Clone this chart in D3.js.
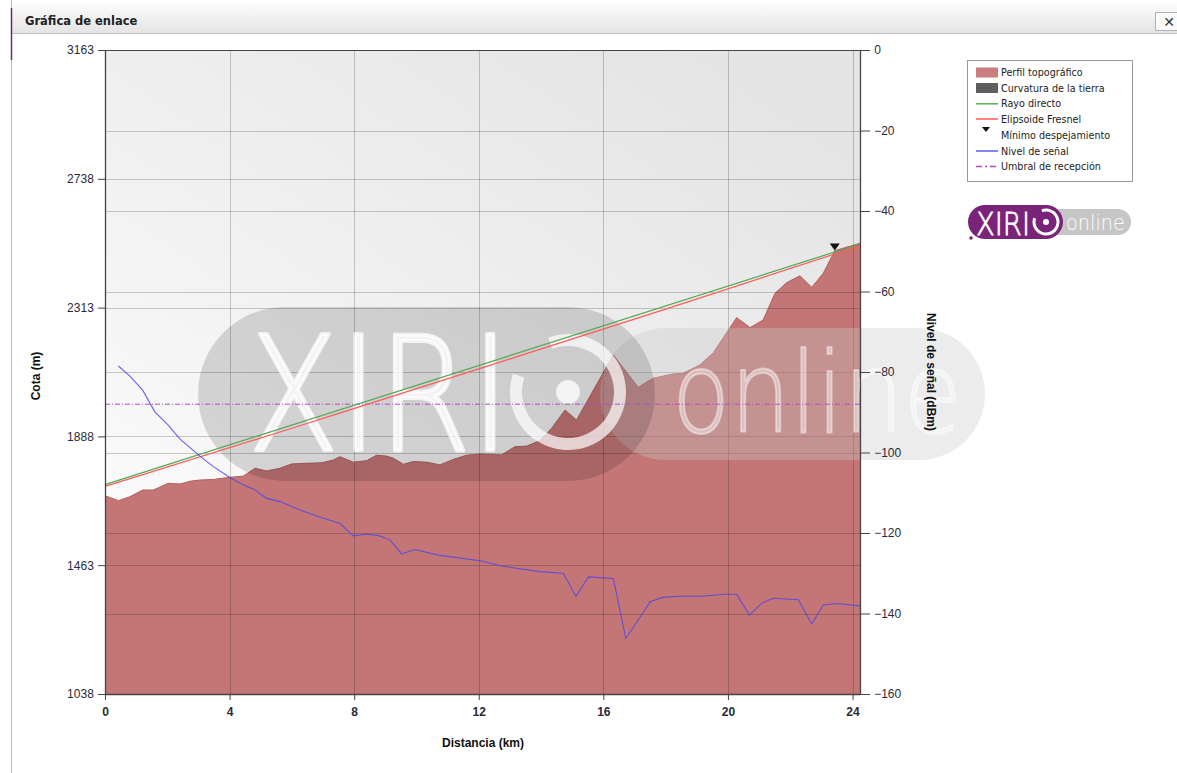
<!DOCTYPE html>
<html><head><meta charset="utf-8">
<script src="https://cdn.jsdelivr.net/npm/d3@7"></script>
<style>
html,body{margin:0;padding:0;background:#fff;}
svg{display:block;}
</style></head>
<body>
<script>
// ---- Data ----
const terrainKm = [0, 0.43, 0.8, 1.21, 1.55, 2.03, 2.41, 2.78, 3.05, 3.48, 4.01, 4.44, 4.82, 5.19, 5.62, 5.99, 6.37, 6.96, 7.33, 7.54, 7.97, 8.4, 8.72, 9.04, 9.26, 9.58, 9.9, 10.33, 10.75, 11.18, 11.61, 12.04, 12.73, 13.16, 13.54, 13.96, 14.34, 14.77, 15.14, 16.32, 17.12, 17.6, 18.24, 18.56, 19.1, 19.53, 20.28, 20.71, 21.13, 21.51, 21.88, 22.31, 22.69, 23.06, 23.43, 24.24];
const terrainElev = [1692, 1676, 1689, 1711, 1711, 1733, 1731, 1741, 1744, 1746, 1753, 1757, 1783, 1774, 1783, 1797, 1799, 1801, 1810, 1821, 1803, 1808, 1826, 1823, 1816, 1796, 1805, 1803, 1794, 1812, 1826, 1830, 1827, 1854, 1856, 1874, 1915, 1975, 1942, 2157, 2050, 2080, 2094, 2096, 2124, 2164, 2280, 2247, 2272, 2360, 2395, 2418, 2380, 2426, 2501, 2525];

const rayKm = [0, 24.24];
const rayElev = [1729, 2523];

const fresnelKm = [0, 6, 12, 18, 24.24];
const fresnelElev = [1723, 1915, 2111, 2308, 2517];

const minClearKm = [23.43];
const minClearElev = [2501];

const signalKm = [0.43, 0.8, 1.21, 1.6, 2.03, 2.41, 3.05, 3.48, 4.01, 4.44, 4.78, 5.19, 5.62, 6.26, 6.96, 7.54, 7.97, 8.35, 8.77, 9.15, 9.52, 9.95, 10.7, 11.18, 12.04, 12.73, 13.96, 14.71, 15.12, 15.52, 16.32, 16.72, 17.12, 17.5, 17.9, 18.46, 19.16, 19.9, 20.28, 20.69, 21.11, 21.46, 22.26, 22.69, 23.06, 23.49, 24.24];
const signalDbm = [-78.5, -81, -84.5, -89.9, -93.2, -96.7, -100.9, -103.5, -106.2, -108.1, -109.1, -111.4, -112.2, -114.3, -116.2, -117.6, -120.7, -120.3, -120.6, -121.7, -125.2, -124.1, -125.5, -126, -126.9, -128.2, -129.6, -130, -135.7, -130.9, -131.3, -146.2, -141.6, -137.1, -136, -135.7, -135.7, -135.2, -135.2, -140.4, -137.3, -136.2, -136.6, -142.6, -137.9, -137.5, -138.1];

const thresholdDbm = -88;

const xTicks = [0, 4, 8, 12, 16, 20, 24];
const elevTicks = [1038, 1463, 1888, 2313, 2738, 3163];
const dbmTicks = [0, -20, -40, -60, -80, -100, -120, -140, -160];

const legendItems = ["Perfil topográfico", "Curvatura de la tierra", "Rayo directo", "Elipsoide Fresnel", "Mínimo despejamiento", "Nivel de señal", "Umbral de recepción"];

// ---- Drawing ----
const W = 1177, H = 773;
const svg = d3.select("body").append("svg").attr("width", W).attr("height", H);
const defs = svg.append("defs");

const m = {left: 105, right: 860, top: 50, bottom: 694};
const x = d3.scaleLinear().domain([0, 24.24]).range([m.left, m.right]);
const yL = d3.scaleLinear().domain([1038, 3163]).range([m.bottom, m.top]);
const yR = d3.scaleLinear().domain([-160, 0]).range([m.bottom, m.top]);

// Title bar
const tg = defs.append("linearGradient").attr("id", "tbar").attr("x1", 0).attr("y1", 0).attr("x2", 0).attr("y2", 1);
tg.append("stop").attr("offset", "0%").attr("stop-color", "#ffffff");
tg.append("stop").attr("offset", "100%").attr("stop-color", "#e4e4e4");
svg.append("rect").attr("x", 12).attr("y", 0).attr("width", W - 12).attr("height", 33).attr("fill", "url(#tbar)");
svg.append("line").attr("x1", 12).attr("x2", W).attr("y1", 33.5).attr("y2", 33.5).attr("stroke", "#c4c4c4");
svg.append("text").attr("x", 25).attr("y", 25).text("Gráfica de enlace")
  .attr("font-family", "DejaVu Sans, Verdana, sans-serif").attr("font-weight", "bold").attr("font-size", 11.5).attr("fill", "#222");
svg.append("rect").attr("x", 1155.5).attr("y", 12.5).attr("width", 24).attr("height", 18).attr("fill", "#fafafa").attr("stroke", "#b0b0b0");
svg.append("text").attr("x", 1169).attr("y", 26.5).attr("text-anchor", "middle").text("✕")
  .attr("font-family", "DejaVu Sans, sans-serif").attr("font-weight", "bold").attr("font-size", 14).attr("fill", "#333");
// left frame line
svg.append("line").attr("x1", 11.5).attr("x2", 11.5).attr("y1", 0).attr("y2", H).attr("stroke", "#b8b8b8");
svg.append("line").attr("x1", 11.5).attr("x2", 11.5).attr("y1", 8).attr("y2", 60).attr("stroke", "#6a2a6e").attr("stroke-width", 1.5);

// Plot background
const bg = defs.append("linearGradient").attr("id", "pbg").attr("x1", 0).attr("y1", 1).attr("x2", 0.8).attr("y2", 0);
bg.append("stop").attr("offset", "0%").attr("stop-color", "#ffffff");
bg.append("stop").attr("offset", "100%").attr("stop-color", "#e4e4e4");
svg.append("rect").attr("x", m.left).attr("y", m.top).attr("width", m.right - m.left).attr("height", m.bottom - m.top).attr("fill", "url(#pbg)");

// Terrain
const terrain = terrainKm.map((k, i) => [k, terrainElev[i]]);
svg.append("path").datum(terrain)
  .attr("d", d3.area().x(d => x(d[0])).y0(yL(1038)).y1(d => yL(d[1])))
  .attr("fill", "#c47676");
svg.append("path").datum(terrain)
  .attr("d", d3.line().x(d => x(d[0])).y(d => yL(d[1])))
  .attr("fill", "none").attr("stroke", "#b35f5f").attr("stroke-width", 1);

// Grid
const grid = svg.append("g").attr("stroke", "#000").attr("stroke-opacity", 0.2).attr("stroke-width", 1);
xTicks.filter(t => t > 0).forEach(t => grid.append("line").attr("x1", Math.round(x(t)) + 0.5).attr("x2", Math.round(x(t)) + 0.5).attr("y1", m.top).attr("y2", m.bottom));
elevTicks.filter(t => t > 1038 && t < 3163).forEach(t => grid.append("line").attr("x1", m.left).attr("x2", m.right).attr("y1", Math.round(yL(t)) + 0.5).attr("y2", Math.round(yL(t)) + 0.5));
dbmTicks.filter(t => t > -160 && t < 0).forEach(t => grid.append("line").attr("x1", m.left).attr("x2", m.right).attr("y1", Math.round(yR(t)) + 0.5).attr("y2", Math.round(yR(t)) + 0.5));

// Watermark (big logo)
const wm = svg.append("g");
wm.append("rect").attr("x", 600).attr("y", 328).attr("width", 385).attr("height", 132).attr("rx", 66).attr("fill", "#c8c8c8").attr("fill-opacity", 0.35);
wm.append("rect").attr("x", 198).attr("y", 307).attr("width", 457).attr("height", 174).attr("rx", 87).attr("fill", "#000").attr("fill-opacity", 0.14);
wm.append("text").attr("x", 248).attr("y", 450).text("XIRI")
  .attr("font-family", "DejaVu Sans, sans-serif").attr("font-weight", 200).attr("font-size", 158)
  .attr("textLength", 262).attr("lengthAdjust", "spacingAndGlyphs")
  .attr("fill", "#fff").attr("fill-opacity", 0.75)
  .attr("stroke", "#fff").attr("stroke-opacity", 0.75).attr("stroke-width", 4).attr("stroke-linejoin", "round");
const ringArc = d3.arc().innerRadius(46).outerRadius(58).startAngle(-0.35).endAngle(2 * Math.PI - 1.25);
wm.append("path").attr("d", ringArc()).attr("transform", "translate(568,392)").attr("fill", "#fff").attr("fill-opacity", 0.7);
wm.append("circle").attr("cx", 568).attr("cy", 392).attr("r", 12).attr("fill", "#fff").attr("fill-opacity", 0.75);
wm.append("text").attr("x", 672).attr("y", 432).text("online")
  .attr("font-family", "DejaVu Sans, sans-serif").attr("font-weight", 200).attr("font-size", 112)
  .attr("textLength", 290).attr("lengthAdjust", "spacingAndGlyphs")
  .attr("fill", "#fff").attr("fill-opacity", 0.42)
  .attr("stroke", "#fff").attr("stroke-opacity", 0.42).attr("stroke-width", 2);
wm.append("circle").attr("cx", 213).attr("cy", 470).attr("r", 8).attr("fill", "none").attr("stroke", "#fff").attr("stroke-opacity", 0.6);
wm.append("text").attr("x", 213).attr("y", 474).attr("text-anchor", "middle").text("R")
  .attr("font-family", "DejaVu Sans, sans-serif").attr("font-size", 10).attr("fill", "#fff").attr("fill-opacity", 0.6);

// Threshold
svg.append("line").attr("x1", m.left).attr("x2", m.right).attr("y1", yR(thresholdDbm)).attr("y2", yR(thresholdDbm))
  .attr("stroke", "#b04cc0").attr("stroke-width", 1).attr("stroke-dasharray", "5,2,1,2");

// Ray and Fresnel
svg.append("path").datum(rayKm.map((k, i) => [k, rayElev[i]]))
  .attr("d", d3.line().x(d => x(d[0])).y(d => yL(d[1])))
  .attr("fill", "none").attr("stroke", "#4fa84f").attr("stroke-width", 1.2);
svg.append("path").datum(fresnelKm.map((k, i) => [k, fresnelElev[i]]))
  .attr("d", d3.line().curve(d3.curveNatural).x(d => x(d[0])).y(d => yL(d[1])))
  .attr("fill", "none").attr("stroke", "#ff5a5a").attr("stroke-width", 1.2);

// Signal level
svg.append("path").datum(signalKm.map((k, i) => [k, signalDbm[i]]))
  .attr("d", d3.line().x(d => x(d[0])).y(d => yR(d[1])))
  .attr("fill", "none").attr("stroke", "#5046e6").attr("stroke-width", 1.1).attr("stroke-opacity", 0.85);

// Minimum clearance marker
minClearKm.forEach((k, i) => {
  const px = x(k), py = yL(minClearElev[i]);
  svg.append("path").attr("d", `M${px - 5},${py - 7}L${px + 5},${py - 7}L${px},${py}Z`).attr("fill", "#111");
});

// Plot frame
svg.append("line").attr("x1", m.left).attr("x2", m.right).attr("y1", m.top + 0.5).attr("y2", m.top + 0.5).attr("stroke", "#444");

// Axes
const fontAxis = "Liberation Sans, Arial, sans-serif";
const gx = svg.append("g").attr("transform", `translate(0,${m.bottom})`)
  .call(d3.axisBottom(x).tickValues(xTicks).tickSize(6).tickSizeOuter(0));
const gl = svg.append("g").attr("transform", `translate(${m.left},0)`)
  .call(d3.axisLeft(yL).tickValues(elevTicks).tickSize(7).tickSizeOuter(0).tickFormat(d3.format("d")));
const gr = svg.append("g").attr("transform", `translate(${m.right},0)`)
  .call(d3.axisRight(yR).tickValues(dbmTicks).tickSize(10).tickSizeOuter(0).tickFormat(d3.format("d")));
[gx, gl, gr].forEach(g => {
  g.selectAll("path.domain").attr("stroke", "#444").attr("stroke-width", 1.3);
  g.selectAll(".tick line").attr("stroke", "#444");
  g.selectAll("text").attr("font-family", fontAxis).attr("font-size", 12).attr("fill", "#2a2a3a");
});
gx.selectAll("text").attr("font-weight", "bold").attr("dy", "1.05em");
gl.selectAll("text").attr("dx", "-0.1em");
gr.selectAll("text").attr("dx", "0.1em");

// Axis titles
svg.append("text").attr("transform", "translate(40,376) rotate(-90)").attr("text-anchor", "middle").text("Cota (m)")
  .attr("font-family", fontAxis).attr("font-weight", "bold").attr("font-size", 12).attr("fill", "#111");
svg.append("text").attr("transform", "translate(927,372) rotate(90)").attr("text-anchor", "middle").text("Nivel de señal (dBm)")
  .attr("font-family", fontAxis).attr("font-weight", "bold").attr("font-size", 12).attr("fill", "#111");
svg.append("text").attr("x", 483).attr("y", 747).attr("text-anchor", "middle").text("Distancia (km)")
  .attr("font-family", fontAxis).attr("font-weight", "bold").attr("font-size", 12).attr("fill", "#111");

// Legend
const lg = svg.append("g");
lg.append("rect").attr("x", 967.5).attr("y", 60.5).attr("width", 165).attr("height", 121).attr("fill", "#fff").attr("stroke", "#999");
const rowY = [72.5, 88, 103.8, 119, 135, 151, 166.5];
legendItems.forEach((name, i) => {
  const cy = rowY[i];
  const sx = 976, sw = 22;
  if (i === 0) lg.append("rect").attr("x", sx).attr("y", cy - 5).attr("width", sw).attr("height", 10).attr("fill", "#c97f7f");
  else if (i === 1) lg.append("rect").attr("x", sx).attr("y", cy - 5).attr("width", sw).attr("height", 10).attr("fill", "#5f5f5f");
  else if (i === 2) lg.append("line").attr("x1", sx).attr("x2", sx + sw).attr("y1", cy).attr("y2", cy).attr("stroke", "#55b055").attr("stroke-width", 1.5);
  else if (i === 3) lg.append("line").attr("x1", sx).attr("x2", sx + sw).attr("y1", cy).attr("y2", cy).attr("stroke", "#ff5a5a").attr("stroke-width", 1.5);
  else if (i === 4) lg.append("path").attr("d", `M${sx + 6},${cy - 8}L${sx + 14},${cy - 8}L${sx + 10},${cy - 3}Z`).attr("fill", "#111");
  else if (i === 5) lg.append("line").attr("x1", sx).attr("x2", sx + sw).attr("y1", cy).attr("y2", cy).attr("stroke", "#5a5af0").attr("stroke-width", 1.5);
  else lg.append("line").attr("x1", sx).attr("x2", sx + sw).attr("y1", cy).attr("y2", cy).attr("stroke", "#b04cc0").attr("stroke-width", 1.5).attr("stroke-dasharray", "6,3,2,3");
  lg.append("text").attr("x", 1001).attr("y", cy + 3.5).text(name)
    .attr("font-family", "DejaVu Sans, Verdana, sans-serif").attr("font-size", 9.6).attr("fill", "#222");
});

// Small logo
const sl = svg.append("g");
sl.append("rect").attr("x", 1030).attr("y", 209).attr("width", 101).attr("height", 26).attr("rx", 13).attr("fill", "#c6c6c6");
sl.append("rect").attr("x", 968).attr("y", 205).attr("width", 95).attr("height", 34).attr("rx", 17).attr("fill", "#7a2479");
sl.append("text").attr("x", 976).attr("y", 235).text("XIRI")
  .attr("font-family", "DejaVu Sans, sans-serif").attr("font-weight", 200).attr("font-size", 32)
  .attr("textLength", 54).attr("lengthAdjust", "spacingAndGlyphs").attr("fill", "#fff")
  .attr("stroke", "#fff").attr("stroke-width", 0.8);
const sArc = d3.arc().innerRadius(10.5).outerRadius(13.5).startAngle(-0.35).endAngle(2 * Math.PI - 1.25);
sl.append("path").attr("d", sArc()).attr("transform", "translate(1046,222)").attr("fill", "#fff");
sl.append("circle").attr("cx", 1046).attr("cy", 222).attr("r", 3).attr("fill", "#fff");
sl.append("text").attr("x", 1066).attr("y", 230).text("online")
  .attr("font-family", "DejaVu Sans, sans-serif").attr("font-weight", 200).attr("font-size", 21)
  .attr("textLength", 59).attr("lengthAdjust", "spacingAndGlyphs").attr("fill", "#fff");
sl.append("circle").attr("cx", 971).attr("cy", 238).attr("r", 1.8).attr("fill", "#7a2479");
</script>
</body></html>
